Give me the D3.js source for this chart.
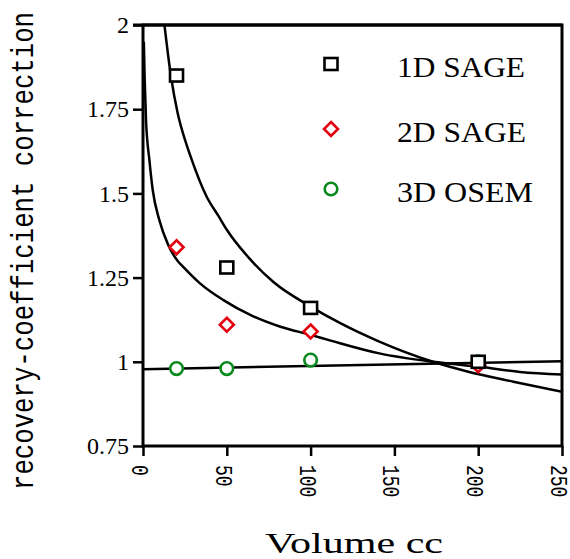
<!DOCTYPE html>
<html>
<head>
<meta charset="utf-8">
<script src="https://cdn.jsdelivr.net/npm/d3@7"></script>
<style>
  body { margin: 0; background: #fff; }
  svg { display: block; }
</style>
</head>
<body>
<svg id="chart"></svg>
<script>
// Measured points (volume in cc, correction factor)
const volumes = [20, 50, 100, 200];
const sage1D = [1.85, 1.28, 1.16, 1.0];
const sage2D = [1.34, 1.11, 1.09, 0.99];
const osem3D = [0.98, 0.98, 1.005, 1.0];

// Fitted curves
const fit1DX = [12.8, 16.7, 20.7, 25.7, 28, 38, 45, 50, 64, 78, 100, 118, 141, 173, 193, 221, 250];
const fit1DY = [2.0, 1.847, 1.738, 1.649, 1.615, 1.49, 1.433, 1.392, 1.304, 1.236, 1.164, 1.114, 1.06, 1.0, 0.972, 0.941, 0.911];
const fit2DX = [0.5, 1, 1.8, 3.8, 5.8, 9.8, 14.8, 20.6, 24, 34, 48, 64, 82, 100, 112, 141, 173, 201, 225, 250];
const fit2DY = [1.95, 1.84, 1.718, 1.6, 1.51, 1.42, 1.35, 1.3, 1.282, 1.233, 1.183, 1.139, 1.104, 1.08, 1.063, 1.025, 1.0, 0.985, 0.97, 0.962];
const fit3DX = [0, 250];
const fit3DY = [0.978, 1.002];

const xTicks = [0, 50, 100, 150, 200, 250];
const yTicks = [0.75, 1, 1.25, 1.5, 1.75, 2];
const yTickLabels = ["0.75", "1", "1.25", "1.5", "1.75", "2"];
const legendNames = ["1D SAGE", "2D SAGE", "3D OSEM"];

const width = 570, height = 559;
const plotLeft = 143, plotRight = 562, plotTop = 25, plotBottom = 446;

const svg = d3.select("#chart")
    .attr("width", width)
    .attr("height", height);

const x = d3.scaleLinear().domain([0, 250]).range([plotLeft, plotRight]);
const y = d3.scaleLinear().domain([0.75, 2]).range([plotBottom, plotTop]);

// clip for the curves
svg.append("clipPath").attr("id", "plotClip")
  .append("rect")
    .attr("x", plotLeft).attr("y", plotTop)
    .attr("width", plotRight - plotLeft).attr("height", plotBottom - plotTop);

// y axis
const yAxis = svg.append("g")
    .attr("transform", `translate(${plotLeft},0)`)
    .call(d3.axisLeft(y).tickValues(yTicks).tickSize(10).tickSizeOuter(0)
        .tickFormat((d, i) => yTickLabels[i]));
yAxis.select(".domain").remove();
yAxis.selectAll(".tick line").attr("stroke", "#000").attr("stroke-width", 2.5);
yAxis.selectAll(".tick text")
    .attr("x", -14)
    .attr("dy", "0.32em")
    .attr("font-family", "'Liberation Serif', 'Times New Roman', serif")
    .attr("font-size", 24)
    .attr("fill", "#000");

// x axis, labels turned and sitting a little left of their ticks
const xAxis = svg.append("g")
    .attr("transform", `translate(0,${plotBottom})`)
    .call(d3.axisBottom(x).tickValues(xTicks).tickSize(10).tickSizeOuter(0));
xAxis.select(".domain").remove();
xAxis.selectAll(".tick line").attr("stroke", "#000").attr("stroke-width", 2.5);
xAxis.selectAll(".tick text")
    .attr("x", null).attr("y", null)
    .attr("transform", "translate(-3,19) rotate(90) scale(1,1.3)")
    .attr("dy", "0.36em")
    .attr("text-anchor", "start")
    .attr("font-family", "'Liberation Mono', 'Courier New', monospace")
    .attr("font-size", 18)
    .attr("fill", "#000");

// frame
svg.append("rect")
    .attr("x", plotLeft).attr("y", plotTop)
    .attr("width", plotRight - plotLeft).attr("height", plotBottom - plotTop)
    .attr("fill", "none")
    .attr("stroke", "#000")
    .attr("stroke-width", 3);
// top line reaches out over the "2" tick
svg.append("line")
    .attr("x1", plotLeft - 10).attr("x2", plotRight)
    .attr("y1", plotTop).attr("y2", plotTop)
    .attr("stroke", "#000").attr("stroke-width", 3);

// fitted curves
const line = d3.line()
    .x(d => x(d[0]))
    .y(d => y(d[1]))
    .curve(d3.curveMonotoneX);

const curves = [
  d3.zip(fit1DX, fit1DY),
  d3.zip(fit2DX, fit2DY),
  d3.zip(fit3DX, fit3DY)
];
svg.append("g").attr("clip-path", "url(#plotClip)")
  .selectAll("path")
  .data(curves)
  .join("path")
    .attr("d", line)
    .attr("fill", "none")
    .attr("stroke", "#000")
    .attr("stroke-width", 2.5);

// markers
const green = "#0a8a1e", red = "#e3000f";

function drawCircle(g, cx, cy) {
  g.append("circle").attr("cx", cx).attr("cy", cy).attr("r", 6.3)
    .attr("fill", "#fff").attr("stroke", green).attr("stroke-width", 2.6);
}
function drawDiamond(g, cx, cy) {
  const s = 7;
  g.append("path")
    .attr("d", `M${cx},${cy - s}L${cx + s},${cy}L${cx},${cy + s}L${cx - s},${cy}Z`)
    .attr("fill", "#fff").attr("stroke", red).attr("stroke-width", 2.6);
}
function drawSquare(g, cx, cy) {
  g.append("rect").attr("x", cx - 6.5).attr("y", cy - 6).attr("width", 13).attr("height", 12)
    .attr("fill", "#fff").attr("stroke", "#000").attr("stroke-width", 2.6);
}

const marks = svg.append("g");
volumes.forEach((v, i) => drawCircle(marks, x(v), y(osem3D[i])));
volumes.forEach((v, i) => drawDiamond(marks, x(v), y(sage2D[i])));
volumes.forEach((v, i) => drawSquare(marks, x(v), y(sage1D[i])));

// legend
const legendY = [64, 129, 189];
const legendW = [128, 129, 136];
const legendDraw = [drawSquare, drawDiamond, drawCircle];
const legend = svg.append("g");
legendNames.forEach((name, i) => {
  legendDraw[i](legend, 331, legendY[i]);
  legend.append("text")
      .attr("x", 397)
      .attr("y", legendY[i] + 13)
      .attr("font-family", "'Liberation Serif', 'Times New Roman', serif")
      .attr("font-size", 29)
      .attr("textLength", legendW[i])
      .attr("lengthAdjust", "spacingAndGlyphs")
      .attr("fill", "#000")
      .text(name);
});

// axis titles
svg.append("text")
    .attr("x", 354)
    .attr("y", 553)
    .attr("text-anchor", "middle")
    .attr("font-family", "'Liberation Serif', 'Times New Roman', serif")
    .attr("font-size", 29)
    .attr("textLength", 178)
    .attr("lengthAdjust", "spacingAndGlyphs")
    .attr("fill", "#000")
    .text("Volume cc");

svg.append("text")
    .attr("transform", "translate(33,251) rotate(-90) scale(1,1.2)")
    .attr("text-anchor", "middle")
    .attr("font-family", "'Liberation Mono', 'Courier New', monospace")
    .attr("font-size", 26)
    .attr("textLength", 478)
    .attr("lengthAdjust", "spacingAndGlyphs")
    .attr("fill", "#000")
    .text("recovery-coefficient correction");
</script>
</body>
</html>
